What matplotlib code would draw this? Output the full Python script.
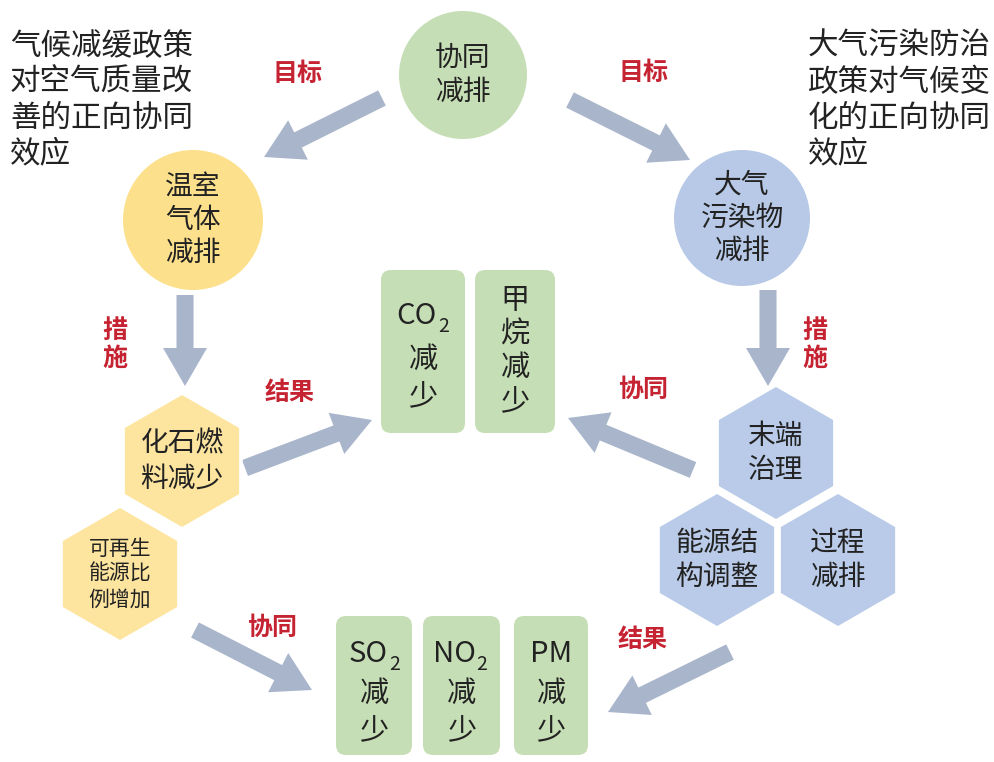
import matplotlib
matplotlib.use("Agg")
import matplotlib.pyplot as plt
from matplotlib.patches import Circle, RegularPolygon, FancyBboxPatch, FancyArrow

plt.rcParams['font.family'] = ['Noto Sans CJK SC', 'DejaVu Sans']

# ---- content ----
circle_labels = ["协同\n减排", "温室\n气体\n减排", "大气\n污染物\n减排"]
circle_colors = ["#C6DEB5", "#FDE08C", "#B7C9E6"]
circle_xy = [(463, 75), (193, 220), (742, 218)]
circle_r = [64, 70, 68]

hex_labels = ["化石燃\n料减少", "可再生\n能源比\n例增加", "末端\n治理", "能源结\n构调整", "过程\n减排"]
hex_colors = ["#FDE5A0", "#FDE5A0", "#B9CBE8", "#B9CBE8", "#B9CBE8"]
hex_xy = [(182, 461), (120, 574), (776, 453), (717, 560), (838, 560)]
hex_sizes = [20, 15, 20, 20, 20]

box_main = ["CO", "", "SO", "NO", "PM"]
box_sub = ["2", "", "2", "2", ""]
box_lower = ["减\n少", "甲\n烷\n减\n少", "减\n少", "减\n少", "减\n少"]
box_x = [(381, 465), (475, 555), (336, 412), (423, 500), (514, 588)]
box_y = [(270, 433), (270, 433), (616, 755), (616, 755), (616, 755)]

arrows = [((382, 98), (264, 157)), ((570, 100), (690, 160)),
          ((185, 295), (185, 386)), ((768, 290), (768, 386)),
          ((245, 468), (372, 420)), ((693, 470), (568, 418)),
          ((195, 630), (312, 690)), ((730, 652), (608, 712))]

red_labels = ["目标", "目标", "措\n施", "措\n施", "结果", "协同", "协同", "结果"]
red_xy = [(298, 74), (643, 73), (115, 345), (815, 345), (290, 393), (643, 390), (272, 628), (643, 640)]

note_left = "气候减缓政策\n对空气质量改\n善的正向协同\n效应"
note_right = "大气污染防治\n政策对气候变\n化的正向协同\n效应"

# ---- drawing ----
fig = plt.figure(figsize=(9.95, 7.62), dpi=100)
ax = fig.add_axes([0, 0, 1, 1])
ax.set_xlim(0, 995)
ax.set_ylim(762, 0)
ax.set_aspect('equal')
ax.axis('off')

arrow_color = "#A8B5CB"
for (x0, y0), (x1, y1) in arrows:
    ax.add_patch(FancyArrow(x0, y0, x1 - x0, y1 - y0, width=17, head_width=44,
                            head_length=38, length_includes_head=True,
                            color=arrow_color, lw=0))

for lab, col, (x, y), r in zip(circle_labels, circle_colors, circle_xy, circle_r):
    ax.add_patch(Circle((x, y), r, facecolor=col, edgecolor='none'))
    ax.text(x, y, lab, ha='center', va='center', fontsize=20, color='#222222',
            linespacing=1.15)

for lab, col, (x, y), fs in zip(hex_labels, hex_colors, hex_xy, hex_sizes):
    ax.add_patch(RegularPolygon((x, y), numVertices=6, radius=68, orientation=0,
                                facecolor=col, edgecolor='white', lw=2.5))
    ax.text(x, y, lab, ha='center', va='center', fontsize=fs, color='#222222',
            linespacing=1.2)

for main, sub, low, (x0, x1), (y0, y1) in zip(box_main, box_sub, box_lower, box_x, box_y):
    ax.add_patch(FancyBboxPatch((x0, y0), x1 - x0, y1 - y0,
                                boxstyle="round,pad=0,rounding_size=10",
                                facecolor="#C6DEB5", edgecolor='none'))
    cx = (x0 + x1) / 2
    tall = (y1 - y0) > 150
    if main:
        top = y0 + 46 if tall else y0 + 38
        if sub:
            ax.text(cx + 14, top, main, ha='right', va='center', fontsize=21, color='#222222')
            ax.text(cx + 15, top + 10, sub, ha='left', va='center', fontsize=14, color='#222222')
        else:
            ax.text(cx, top, main, ha='center', va='center', fontsize=21, color='#222222')
        ax.text(cx, top + 62 if tall else top + 58, low, ha='center', va='center',
                fontsize=21, color='#222222', linespacing=1.25)
    else:
        ax.text(cx, (y0 + y1) / 2, low, ha='center', va='center', fontsize=21,
                color='#222222', linespacing=1.15)

for lab, (x, y) in zip(red_labels, red_xy):
    ax.text(x, y, lab, ha='center', va='center', fontsize=18, color='#C62332',
            fontweight='bold', linespacing=1.25)

ax.text(10, 31, note_left, ha='left', va='top', fontsize=22, color='#222222', linespacing=1.2)
ax.text(808, 31, note_right, ha='left', va='top', fontsize=22, color='#222222', linespacing=1.2)

fig.savefig("out.png", dpi=100)
